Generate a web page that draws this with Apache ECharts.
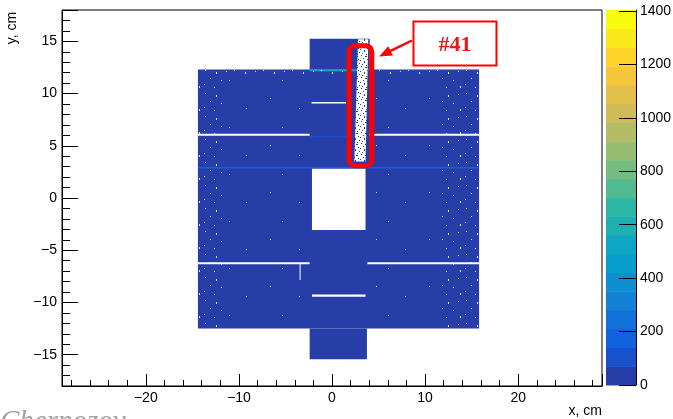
<!DOCTYPE html>
<html>
<head>
<meta charset="utf-8">
<script src="https://cdn.jsdelivr.net/npm/echarts@6/dist/echarts.min.js"></script>
<style>
html, body { margin: 0; padding: 0; background: #fff; }
#chart { width: 673px; height: 419px; }
</style>
</head>
<body>
<div id="chart"></div>
<script>
// histogram frame, cm
const xRange = [-29, 29]
const yRange = [-18, 18]
// colour scale
const zMax = 1404
const nContours = 20

// filled bins [x0, x1, y0, y1, counts]
const fillBoxes = [
  [-14.4, 15.8, -12.5, 12.3, 30],
  [-2.4, 4.05, 12.3, 15.25, 30],
  [-2.4, 3.75, -15.45, -12.5, 30],
  [-14.4, 15.8, 2.82, 2.97, 170],
  [-2.4, 3.9, 12.13, 12.28, 500],
  [-2.4, 3.9, 5.8, 5.93, 110]
]
// empty bins (not drawn -> white) [x0, x1, y0, y1]
const emptyBoxes = [
  [-2.15, 3.6, -3.07, 2.8],
  [-14.4, -2.4, 5.97, 6.15],
  [4.0, 15.8, 5.97, 6.15],
  [-2.2, 1.5, 9.05, 9.2],
  [-14.4, -2.4, -6.34, -6.14],
  [3.8, 15.8, -6.34, -6.14],
  [-3.48, -3.4, -7.84, -6.3],
  [-2.15, 3.6, -9.45, -9.25]
]
// sparsely hit strip #41 [xTopL, xTopR, xBotL, xBotR, yTop, yBot]
const strip41 = [[2.8, 3.9, 2.4, 3.6, 15.2, 3.5]]
// zones with scattered empty bins [x0, x1, y0, y1, dense]
const speckleZones = [
  [-14.4, -11.5, -12.5, 12.3, 1],
  [-11.5, -2.4, -12.5, 12.3, 0],
  [3.9, 11.5, -12.5, 12.3, 0],
  [11.5, 15.8, -12.5, 12.3, 1],
  [-14.4, 15.8, 11.6, 12.3, 1]
]

// ROOT kBird palette
const birdStops = [0, 0.125, 0.25, 0.375, 0.5, 0.625, 0.75, 0.875, 1]
const birdR = [0.2082, 0.0592, 0.0780, 0.0232, 0.1802, 0.5301, 0.8186, 0.9956, 0.9764]
const birdG = [0.1664, 0.3599, 0.5041, 0.6419, 0.7178, 0.7492, 0.7328, 0.7862, 0.9832]
const birdB = [0.5293, 0.8684, 0.8385, 0.7914, 0.6425, 0.4662, 0.3499, 0.1968, 0.0539]
function bird(t) {
  let k = 0
  while (k < birdStops.length - 2 && t > birdStops[k + 1]) k++
  const f = (t - birdStops[k]) / (birdStops[k + 1] - birdStops[k])
  const c = arr => Math.round(255 * (arr[k] + f * (arr[k + 1] - arr[k])))
  return 'rgb(' + c(birdR) + ',' + c(birdG) + ',' + c(birdB) + ')'
}
const bandColors = []
for (let i = 0; i < nContours; i++) {
  bandColors.push(bird(Math.floor((i + 0.99) * 255 / nContours) / 254))
}
function colorFor(v) {
  return bandColors[Math.min(nContours - 1, Math.floor(v / (zMax / nContours)))]
}
const bands = []
for (let i = 0; i < nContours; i++) bands.push([i * zMax / nContours, (i + 1) * zMax / nContours, i])

// dot patterns for partly empty areas
function makePattern(w, h, bg, dot, dots) {
  const cv = document.createElement('canvas')
  cv.width = w; cv.height = h
  const ctx = cv.getContext('2d')
  if (bg) { ctx.fillStyle = bg; ctx.fillRect(0, 0, w, h) }
  ctx.fillStyle = dot
  dots.forEach(d => ctx.fillRect(d[0], d[1], d[2] || 1, d[3] || 1))
  return { image: cv, repeat: 'repeat' }
}
const stripFill = makePattern(9, 11, '#fff', bandColors[0],
  [[1, 0], [5, 1, 2], [3, 3], [7, 4], [0, 5], [4, 6, 1, 2], [8, 8], [2, 9], [6, 10]])
const denseSpeckle = makePattern(29, 23, null, 'rgba(255,255,255,0.85)',
  [[2, 1], [13, 3, 1, 2], [23, 2], [7, 9], [18, 11], [1, 15], [11, 18], [25, 17, 1, 2]])
const sparseSpeckle = makePattern(53, 47, null, 'rgba(255,255,255,0.8)',
  [[5, 4], [34, 14], [17, 33]])

const fmt = v => String(v).replace('-', '\u2212')
const black = { color: '#000', width: 1 }

const chart = echarts.init(document.getElementById('chart'))
chart.setOption({
  animation: false,
  grid: [
    { left: 62, right: 71, top: 10, bottom: 33, show: true, borderColor: '#000', borderWidth: 1, backgroundColor: 'transparent', containLabel: false, outerBoundsMode: 'none' },
    { left: 606, width: 30, top: 10, bottom: 34, containLabel: false, outerBoundsMode: 'none' }
  ],
  xAxis: [
    {
      type: 'value', gridIndex: 0, min: xRange[0], max: xRange[1], splitNumber: 6,
      axisLine: { onZero: false, lineStyle: black },
      axisTick: { inside: true, length: 12, lineStyle: black },
      minorTick: { show: true, splitNumber: 5, length: 6, lineStyle: black },
      splitLine: { show: false },
      axisLabel: { color: '#000', fontSize: 14, fontFamily: 'Liberation Sans', margin: 5, showMinLabel: false, showMaxLabel: false, formatter: fmt }
    },
    { type: 'value', gridIndex: 1, min: 0, max: 1, show: false }
  ],
  yAxis: [
    {
      type: 'value', gridIndex: 0, min: yRange[0], max: yRange[1], splitNumber: 7,
      axisLine: { onZero: false, lineStyle: black },
      axisTick: { inside: true, length: 16, lineStyle: black },
      minorTick: { show: true, splitNumber: 5, length: 8, lineStyle: black },
      splitLine: { show: false },
      axisLabel: { color: '#000', fontSize: 14, fontFamily: 'Liberation Sans', margin: 5, showMinLabel: false, showMaxLabel: false, formatter: fmt }
    },
    {
      type: 'value', gridIndex: 1, position: 'right', min: 0, max: zMax, splitNumber: 7, z: 10,
      axisLine: { show: true, onZero: false, lineStyle: black },
      axisTick: { inside: true, length: 17, lineStyle: black },
      splitLine: { show: false },
      axisLabel: { color: '#000', fontSize: 14, fontFamily: 'Liberation Sans', margin: 4, showMaxLabel: false, formatter: v => String(v) }
    }
  ],
  series: [
    {
      type: 'custom', xAxisIndex: 0, yAxisIndex: 0, data: fillBoxes,
      renderItem: (params, api) => {
        const p0 = api.coord([api.value(0), api.value(3)])
        const p1 = api.coord([api.value(1), api.value(2)])
        return { type: 'rect', shape: { x: p0[0], y: p0[1], width: p1[0] - p0[0], height: Math.max(1, p1[1] - p0[1]) },
          style: { fill: colorFor(api.value(4)) } }
      }
    },
    {
      type: 'custom', xAxisIndex: 0, yAxisIndex: 0, data: speckleZones, z: 3,
      renderItem: (params, api) => {
        const p0 = api.coord([api.value(0), api.value(3)])
        const p1 = api.coord([api.value(1), api.value(2)])
        return { type: 'rect', shape: { x: p0[0], y: p0[1], width: p1[0] - p0[0], height: p1[1] - p0[1] },
          style: { fill: api.value(4) ? denseSpeckle : sparseSpeckle } }
      }
    },
    {
      type: 'custom', xAxisIndex: 0, yAxisIndex: 0, data: emptyBoxes, z: 4,
      renderItem: (params, api) => {
        const p0 = api.coord([api.value(0), api.value(3)])
        const p1 = api.coord([api.value(1), api.value(2)])
        return { type: 'rect', shape: { x: p0[0], y: p0[1], width: Math.max(1, p1[0] - p0[0]), height: Math.max(1.5, p1[1] - p0[1]) },
          style: { fill: '#fff' } }
      }
    },
    {
      type: 'custom', xAxisIndex: 0, yAxisIndex: 0, data: strip41, z: 5,
      renderItem: (params, api) => {
        const pts = [
          api.coord([api.value(0), api.value(4)]),
          api.coord([api.value(1), api.value(4)]),
          api.coord([api.value(3), api.value(5)]),
          api.coord([api.value(2), api.value(5)])
        ]
        return { type: 'polygon', shape: { points: pts }, style: { fill: stripFill } }
      }
    },
    {
      type: 'custom', xAxisIndex: 1, yAxisIndex: 1, data: bands, z: 1,
      renderItem: (params, api) => {
        const p0 = api.coord([0, api.value(1)])
        const p1 = api.coord([1, api.value(0)])
        return { type: 'rect', shape: { x: p0[0], y: p0[1], width: p1[0] - p0[0], height: p1[1] - p0[1] + 0.5 },
          style: { fill: bandColors[api.value(2)] } }
      }
    }
  ],
  graphic: [
    { type: 'text', x: 12.5, y: 28, rotation: Math.PI / 2, z: 100,
      style: { text: 'y, cm', fontSize: 14, fontFamily: 'Liberation Sans', fill: '#000', align: 'center', verticalAlign: 'middle' } },
    { type: 'text', x: 602, y: 411, z: 100,
      style: { text: 'x, cm', fontSize: 14, fontFamily: 'Liberation Sans', fill: '#000', align: 'right', verticalAlign: 'middle' } },
    { type: 'rect', z: 100, shape: { x: 349.2, y: 45.8, width: 22.6, height: 120, r: 6 },
      style: { fill: 'none', stroke: '#ff0000', lineWidth: 5 } },
    { type: 'rect', z: 100, shape: { x: 413.5, y: 21.5, width: 83, height: 44 },
      style: { fill: '#fff', stroke: '#ff0000', lineWidth: 2 } },
    { type: 'text', x: 455, y: 45, z: 101,
      style: { text: '#41', fontSize: 22, fontWeight: 'bold', fontFamily: 'Liberation Serif', fill: '#e81818', align: 'center', verticalAlign: 'middle' } },
    { type: 'line', z: 100, shape: { x1: 412, y1: 40.5, x2: 389, y2: 51.7 },
      style: { stroke: '#ff0000', lineWidth: 2.5 } },
    { type: 'polygon', z: 100, shape: { points: [[379, 56.5], [388.3, 46.3], [392.9, 55.6]] },
      style: { fill: '#ff0000' } },
    { type: 'text', x: 0, y: 408, z: 100,
      style: { text: 'Chernozov', fontSize: 29, fontStyle: 'italic', fontFamily: 'Liberation Serif', fill: '#a0a0a0', align: 'left', verticalAlign: 'top' } }
  ]
})
</script>
</body>
</html>
